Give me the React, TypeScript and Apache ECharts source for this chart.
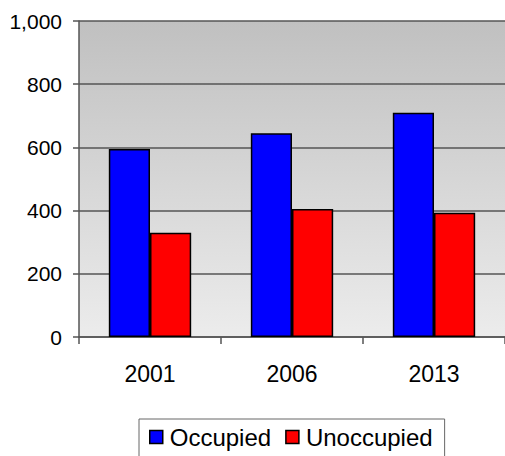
import React, { useEffect, useRef } from "react";
import * as echarts from "echarts";

const categories = ["2001", "2006", "2013"];
const occupied = [595, 645, 710];
const unoccupied = [330, 405, 393];
const seriesNames = ["Occupied", "Unoccupied"];

export default function App() {
  const ref = useRef<HTMLDivElement>(null);
  useEffect(() => {
    if (!ref.current) return;
    const chart = echarts.init(ref.current, null, { renderer: "svg" });
    const font = "Liberation Sans, Arial, sans-serif";
    chart.setOption({
      animation: false,
      grid: {
        left: 79,
        right: -8,
        top: 21,
        bottom: 119,
        show: true,
        borderWidth: 0,
        backgroundColor: new echarts.graphic.LinearGradient(0, 0, 0, 1, [
          { offset: 0, color: "#c0c0c0" },
          { offset: 1, color: "#ececec" },
        ]),
      },
      legend: {
        data: seriesNames,
        left: 139,
        top: 419,
        padding: [6, 12, 12, 10],
        itemGap: 14,
        itemWidth: 13,
        itemHeight: 13,
        icon: "rect",
        borderColor: "#666",
        borderWidth: 1,
        itemStyle: { borderColor: "#000", borderWidth: 1.5 },
        textStyle: { fontFamily: font, fontSize: 24, color: "#000", padding: [0, 0, 0, 2] },
      },
      xAxis: {
        type: "category",
        data: categories,
        axisLine: { lineStyle: { color: "#555", width: 1.5 } },
        axisTick: { show: true, length: 7, lineStyle: { color: "#555", width: 1.5 } },
        axisLabel: { fontFamily: font, fontSize: 23, color: "#000", margin: 25 },
      },
      yAxis: {
        type: "value",
        min: 0,
        max: 1000,
        interval: 200,
        axisLine: { show: true, lineStyle: { color: "#555", width: 1.5 } },
        axisTick: { show: true, length: 6, lineStyle: { color: "#555", width: 1.5 } },
        axisLabel: {
          fontFamily: font,
          fontSize: 21,
          color: "#000",
          margin: 17,
          formatter: (v: number) => v.toLocaleString("en-US"),
        },
        splitLine: { lineStyle: { color: "#555", width: 1.5 } },
      },
      series: [
        {
          name: seriesNames[0],
          type: "bar",
          data: occupied,
          barGap: "0%",
          barCategoryGap: "42%",
          itemStyle: { color: "#0000ff", borderColor: "#000", borderWidth: 1.5 },
        },
        {
          name: seriesNames[1],
          type: "bar",
          data: unoccupied,
          barGap: "0%",
          barCategoryGap: "42%",
          itemStyle: { color: "#ff0000", borderColor: "#000", borderWidth: 1.5 },
        },
      ],
    });
    return () => chart.dispose();
  }, []);
  return (
    <div
      ref={ref}
      style={{ position: "absolute", left: 0, top: 0, width: 505, height: 456 }}
    />
  );
}
